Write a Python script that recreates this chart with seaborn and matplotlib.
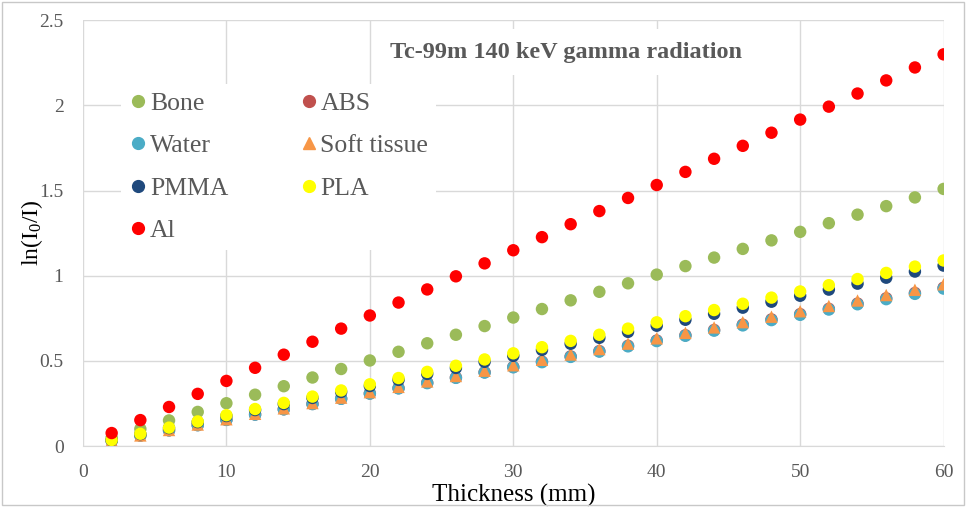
# attenuation of Tc-99m 140 keV gammas through different materials
import numpy as np
import pandas as pd
import matplotlib
matplotlib.use("Agg")
import matplotlib.pyplot as plt
from matplotlib.lines import Line2D
import seaborn as sns

thickness = [2, 4, 6, 8, 10, 12, 14, 16, 18, 20, 22, 24, 26, 28, 30,
             32, 34, 36, 38, 40, 42, 44, 46, 48, 50, 52, 54, 56, 58, 60]

bone = [0.050, 0.101, 0.151, 0.201, 0.252, 0.302, 0.352, 0.403, 0.453, 0.503,
        0.554, 0.604, 0.654, 0.705, 0.755, 0.805, 0.856, 0.906, 0.956, 1.007,
        1.057, 1.107, 1.158, 1.208, 1.258, 1.309, 1.359, 1.409, 1.460, 1.510]
abs_ = [0.031, 0.062, 0.093, 0.124, 0.155, 0.186, 0.217, 0.248, 0.279, 0.310,
        0.341, 0.372, 0.403, 0.434, 0.465, 0.496, 0.527, 0.558, 0.589, 0.620,
        0.651, 0.682, 0.713, 0.744, 0.775, 0.806, 0.837, 0.868, 0.899, 0.930]
water = [0.031, 0.062, 0.093, 0.123, 0.154, 0.185, 0.216, 0.247, 0.278, 0.308,
         0.339, 0.370, 0.401, 0.432, 0.463, 0.493, 0.524, 0.555, 0.586, 0.617,
         0.648, 0.678, 0.709, 0.740, 0.771, 0.802, 0.833, 0.863, 0.894, 0.925]
soft_tissue = [0.032, 0.063, 0.095, 0.127, 0.158, 0.190, 0.222, 0.253, 0.285, 0.317,
               0.348, 0.380, 0.412, 0.443, 0.475, 0.507, 0.538, 0.570, 0.602, 0.633,
               0.665, 0.697, 0.728, 0.760, 0.792, 0.823, 0.855, 0.887, 0.918, 0.950]
pmma = [0.035, 0.071, 0.106, 0.141, 0.177, 0.212, 0.247, 0.283, 0.318, 0.353,
        0.389, 0.424, 0.459, 0.495, 0.530, 0.565, 0.601, 0.636, 0.671, 0.707,
        0.742, 0.777, 0.813, 0.848, 0.883, 0.919, 0.954, 0.989, 1.025, 1.060]
pla = [0.036, 0.073, 0.109, 0.145, 0.182, 0.218, 0.254, 0.291, 0.327, 0.363,
       0.400, 0.436, 0.472, 0.509, 0.545, 0.581, 0.618, 0.654, 0.690, 0.727,
       0.763, 0.799, 0.836, 0.872, 0.908, 0.945, 0.981, 1.017, 1.054, 1.090]
al = [0.077, 0.153, 0.230, 0.307, 0.383, 0.460, 0.537, 0.613, 0.690, 0.767,
      0.843, 0.920, 0.997, 1.073, 1.150, 1.227, 1.303, 1.380, 1.457, 1.533,
      1.610, 1.687, 1.763, 1.840, 1.917, 1.993, 2.070, 2.147, 2.223, 2.300]

materials = ["Bone", "ABS", "Water", "Soft tissue", "PMMA", "PLA", "Al"]
series = [bone, abs_, water, soft_tissue, pmma, pla, al]
colors = {"Bone": "#9BBB59", "ABS": "#C0504D", "Water": "#4BACC6",
          "Soft tissue": "#F79646", "PMMA": "#1F497D", "PLA": "#FFFF00",
          "Al": "#FF0000"}
markers = {m: "o" for m in materials}
markers["Soft tissue"] = "^"

rows = []
for name, vals in zip(materials, series):
    for x, y in zip(thickness, vals):
        rows.append({"thickness": x, "value": y, "material": name})
df = pd.DataFrame(rows)

sns.set_style("white")
plt.rcParams["font.family"] = ["Liberation Serif", "DejaVu Serif"]
plt.rcParams["mathtext.fontset"] = "custom"
plt.rcParams["mathtext.rm"] = "Liberation Serif"
plt.rcParams["mathtext.it"] = "Liberation Serif"

fig = plt.figure(figsize=(9.67, 5.07), dpi=100)
fig.patches.append(plt.Rectangle((0.002, 0.003), 0.995, 0.993, transform=fig.transFigure,
                                 fill=False, edgecolor="#c8c8c8", linewidth=1))
ax = fig.add_axes([0.0858, 0.120, 0.890, 0.840])

gray = "#595959"
sns.scatterplot(data=df, x="thickness", y="value", hue="material", style="material",
                palette=colors, markers=markers, s=80, linewidth=0, legend=False, ax=ax,
                zorder=3)

ax.set_xlim(0, 60)
ax.set_ylim(0, 2.5)
ax.set_xticks(range(0, 61, 10))
ax.set_yticks([0, 0.5, 1, 1.5, 2, 2.5])
ax.set_yticklabels(["0", "0.5", "1", "1.5", "2", "2.5"])
ax.grid(True, color="#d9d9d9", linewidth=1)
ax.set_axisbelow(True)
for side in ["top", "right", "left"]:
    ax.spines[side].set_visible(False)
ax.spines["bottom"].set_color("#d9d9d9")
ax.tick_params(axis="y", length=0, labelsize=14, colors=gray, pad=14)
ax.tick_params(axis="x", length=0, labelsize=14, colors=gray, pad=13)

ax.set_xlabel("Thickness (mm)", fontsize=18, color="black", labelpad=2)
ax.set_ylabel(r"ln(I$_\mathregular{0}$/I)", fontsize=17, color="black", labelpad=-4)

ax.text(0.357, 0.925, "Tc-99m 140 keV gamma radiation", transform=ax.transAxes,
        fontsize=17.5, fontweight="bold", color=gray, va="center", zorder=4,
        bbox=dict(facecolor="white", edgecolor="none", pad=9))

# legend fills row by row like excel, so reorder for column filling
order = ["Bone", "Water", "PMMA", "Al", "ABS", "Soft tissue", "PLA"]
handles = [Line2D([], [], linestyle="", marker=markers[m], color=colors[m],
                  markersize=8.5) for m in order]
leg = ax.legend(handles, order, ncol=2, loc="upper left", bbox_to_anchor=(0.029, 0.88),
                frameon=True, facecolor="white", edgecolor="none", framealpha=1,
                fontsize=18.5, labelcolor=gray, handletextpad=0.08,
                columnspacing=2.76, labelspacing=0.76, handlelength=0.75,
                borderpad=0.3)
leg.set_zorder(4)

fig.savefig("out.png", dpi=100)
